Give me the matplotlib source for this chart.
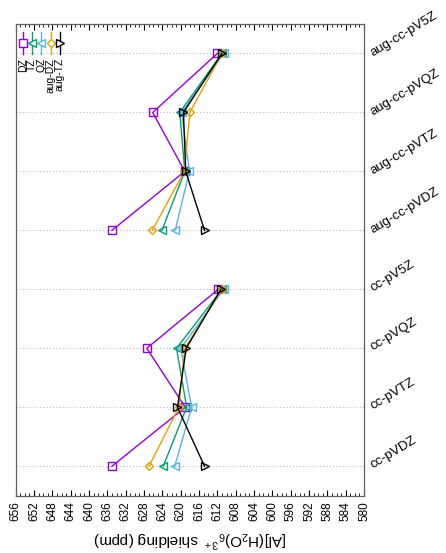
import numpy as np
import matplotlib.pyplot as plt

plt.rcParams['font.family'] = ['Liberation Sans', 'DejaVu Sans']
plt.rcParams['mathtext.fontset'] = 'custom'
plt.rcParams['mathtext.rm'] = 'Liberation Sans'
plt.rcParams['mathtext.it'] = 'Liberation Sans:italic'

# basis sets (bottom to top) and shielding per method (ppm)
basis = ['cc-pVDZ', 'cc-pVTZ', 'cc-pVQZ', 'cc-pV5Z',
         'aug-cc-pVDZ', 'aug-cc-pVTZ', 'aug-cc-pVQZ', 'aug-cc-pV5Z']
dz = [635.0, 619.0, 627.4, 611.8, 635.0, 619.1, 626.1, 612.0]
tz = [623.8, 618.7, 620.9, 611.0, 624.1, 619.1, 620.2, 611.0]
qz = [621.3, 617.6, 620.0, 610.6, 621.2, 618.1, 619.8, 610.6]
aug_dz = [626.9, 620.4, 619.1, 611.0, 626.2, 619.2, 618.0, 611.0]
aug_tz = [614.8, 620.7, 618.8, 611.2, 614.8, 618.9, 619.4, 611.0]

series = [
    ('DZ', dz, '#9400d3', 's', 5.5),
    ('TZ', tz, '#009e73', '<', 6),
    ('QZ', qz, '#56b4e9', '<', 6),
    ('aug-DZ', aug_dz, '#e69f00', 'D', 4.5),
    ('aug-TZ', aug_tz, 'black', '>', 6),
]

W, H = 446, 553
fig = plt.figure(figsize=(W / 100, H / 100), dpi=100)
left, right, top, bottom = 15.7, 364, 24, 495.7
ax = fig.add_axes([left / W, 1 - bottom / H, (right - left) / W, (bottom - top) / H])

y = np.arange(len(basis))
# cc-pVXZ and aug-cc-pVXZ are drawn as two separate runs
runs = [slice(0, 4), slice(4, 8)]
for name, vals, col, mk, ms in series:
    vals = np.asarray(vals)
    for r in runs:
        ax.plot(vals[r], y[r], color=col, lw=1.0, marker=mk, ms=ms,
                mfc='none', mec=col, mew=1.0)

ax.set_xlim(656, 580)
ax.set_ylim(-0.5, len(basis) - 0.5)
ax.set_xticks(np.arange(656, 579, -4))
ax.set_xticks(np.arange(656, 579, -1), minor=True)
ax.tick_params(axis='x', which='both', direction='in', top=True,
               labelsize=8.5, rotation=90, pad=4)
ax.tick_params(axis='x', which='major', length=4)
ax.tick_params(axis='x', which='minor', length=2)

ax.set_yticks(y)
ax.set_yticklabels(basis)
ax.yaxis.tick_right()
ax.tick_params(axis='y', length=0, labelsize=9.5, pad=5)
for lbl in ax.get_yticklabels():
    lbl.set_rotation(31)
    lbl.set_rotation_mode('anchor')
    lbl.set_ha('left')
    lbl.set_va('center')

ax.grid(axis='y', color='#b8b8b8', lw=0.8, linestyle=(0, (1, 2)))
for sp in ax.spines.values():
    sp.set_color('#606060')
    sp.set_linewidth(0.9)

ax.set_xlabel(r'[Al](H$_2$O)$_6$$^{3+}$ shielding (ppm)', fontsize=11,
              rotation=180, labelpad=5)

# key: vertical samples with labels hanging below
kx = [0.020, 0.047, 0.073, 0.100, 0.127]
for (name, vals, col, mk, ms), x0 in zip(series, kx):
    ax.plot([x0, x0], [0.937, 0.984], transform=ax.transAxes, color=col,
            lw=1.0, clip_on=False)
    ax.plot([x0], [0.960], transform=ax.transAxes, color=col, marker=mk,
            ms=ms, mfc='white', mec=col, mew=1.0, clip_on=False)
    ax.text(x0, 0.928, name, transform=ax.transAxes, rotation=90,
            ha='center', va='top', fontsize=7.5)

fig.savefig('out.png', dpi=100)
